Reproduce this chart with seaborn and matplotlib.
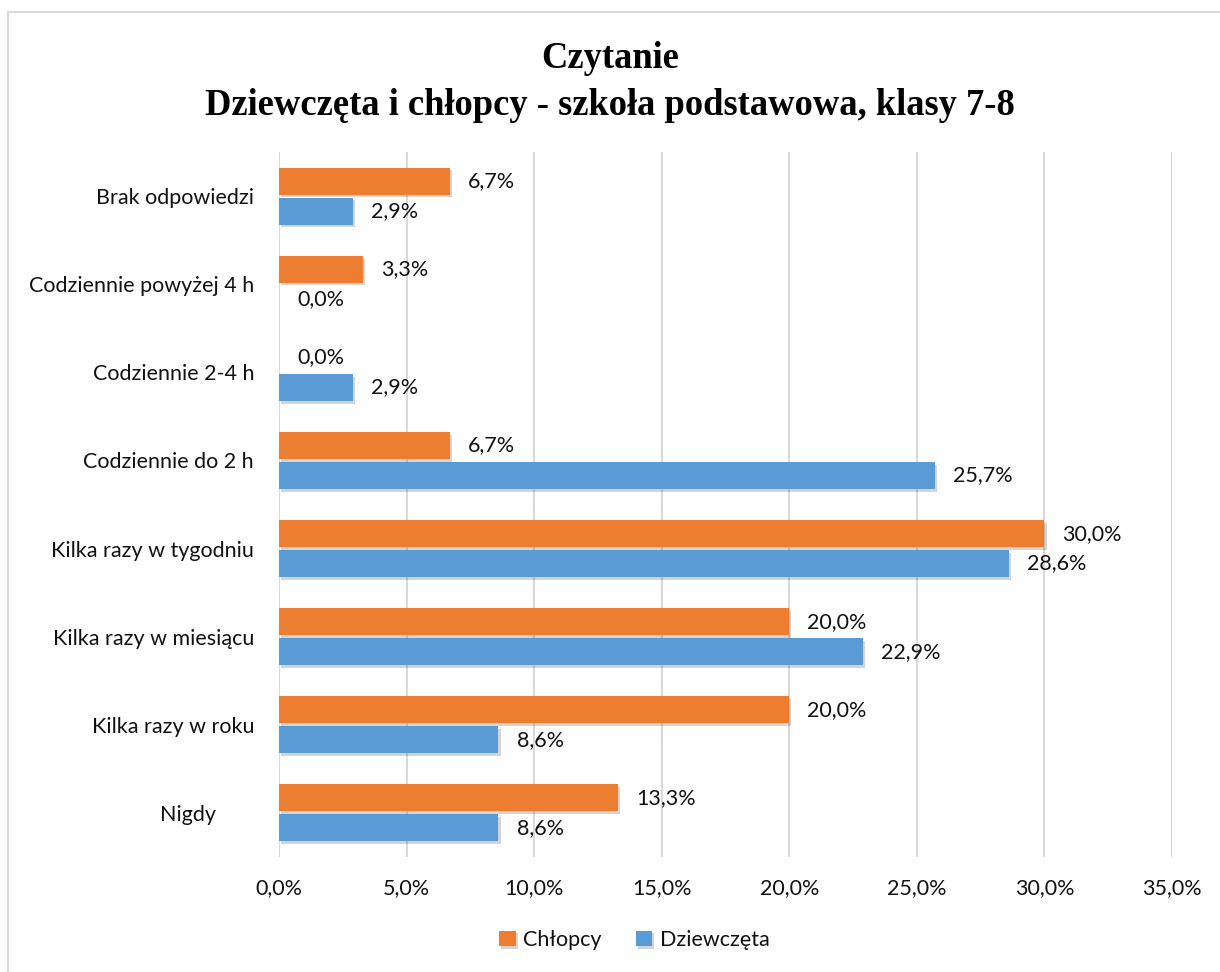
import matplotlib
matplotlib.use("Agg")
import matplotlib.pyplot as plt
import matplotlib.patheffects as pe
from matplotlib.patches import Rectangle
import pandas as pd
import seaborn as sns

# dane z wykresu
kategorie = ["Brak odpowiedzi", "Codziennie powyżej 4 h", "Codziennie 2-4 h",
             "Codziennie do 2 h", "Kilka razy w tygodniu", "Kilka razy w miesiącu",
             "Kilka razy w roku", "Nigdy       "]
chlopcy = [6.7, 3.3, 0.0, 6.7, 30.0, 20.0, 20.0, 13.3]
dziewczeta = [2.9, 0.0, 2.9, 25.7, 28.6, 22.9, 8.6, 8.6]
grupy = ["Chłopcy", "Dziewczęta"]
kolory = ["#ED7D31", "#5B9BD5"]
ticki = [0, 5, 10, 15, 20, 25, 30, 35]

df = pd.DataFrame({
    "kategoria": kategorie * 2,
    "wartosc": chlopcy + dziewczeta,
    "grupa": [grupy[0]] * len(kategorie) + [grupy[1]] * len(kategorie),
})

sns.set_theme(style="white")
plt.rcParams["font.family"] = ["Lato", "DejaVu Sans"]
fs = 15.5

fig = plt.figure(figsize=(12.2, 9.72), dpi=100)
ax = fig.add_axes([0.2287, 0.1183, 0.732, 0.7253])

sns.barplot(data=df, y="kategoria", x="wartosc", hue="grupa", order=kategorie,
            hue_order=grupy, palette=kolory, orient="h", width=0.68, gap=0.1,
            saturation=1, linewidth=0, ax=ax, legend=True)

for p in ax.patches:
    p.set_path_effects([pe.SimplePatchShadow(offset=(1.5, -2), alpha=0.2), pe.Normal()])

for cont in ax.containers:
    ax.bar_label(cont, labels=[f"{v:.1f}%".replace(".", ",") for v in cont.datavalues],
                 padding=13, fontsize=fs, color="#111111")

ax.set_xlim(0, 35)
ax.set_ylim(7.5, -0.5)
ax.set_xticks(ticki)
ax.set_xticklabels([f"{t:.1f}%".replace(".", ",") for t in ticki])
ax.set_xlabel("")
ax.set_ylabel("")
ax.grid(axis="x", color="#D9D9D9", linewidth=1.5)
ax.set_axisbelow(True)
for s in ax.spines.values():
    s.set_visible(False)
ax.tick_params(axis="y", length=0, pad=18, labelsize=fs, labelcolor="#111111")
ax.tick_params(axis="x", length=0, pad=15, labelsize=fs, labelcolor="#111111")

ax.legend_.remove()
h, l = ax.get_legend_handles_labels()
fig.legend(h[:2], l[:2], loc="center", bbox_to_anchor=(0.52, 0.033), ncol=2,
           frameon=False, fontsize=fs, handlelength=0.75, handleheight=0.75,
           handletextpad=0.35, columnspacing=1.6, labelcolor="#111111")

fig.text(0.5, 0.9156, "Czytanie\nDziewczęta i chłopcy - szkoła podstawowa, klasy 7-8",
         ha="center", va="center", fontsize=26.3, fontweight="bold", color="black",
         family="Liberation Serif", linespacing=1.45)

fig.patches.append(Rectangle((0.0066, -0.05), 1.2, 0.9877 + 0.05, transform=fig.transFigure,
                             fill=False, edgecolor="#D9D9D9", linewidth=1.5))

fig.savefig("out.png", dpi=100)
